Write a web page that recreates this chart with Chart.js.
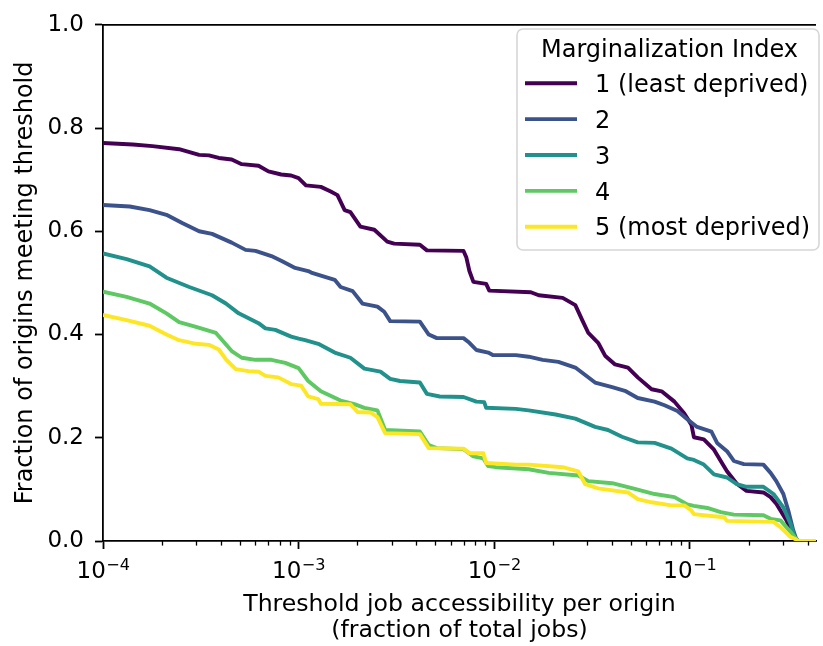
<!DOCTYPE html>
<html>
<head>
<meta charset="utf-8">
<script src="https://cdn.jsdelivr.net/npm/chart.js@4/dist/chart.umd.min.js"></script>
<style>
  html, body { margin: 0; padding: 0; background: #fff; }
  #wrap { width: 823px; height: 646px; }
</style>
</head>
<body>
<div id="wrap"><canvas id="chart" width="823" height="646"></canvas></div>
<script>
// Share of origins whose job accessibility reaches each threshold, by marginalization quintile
const seriesLabels = ['1 (least deprived)', '2', '3', '4', '5 (most deprived)'];
const seriesColors = ['#440154', '#3b528b', '#21918c', '#5ec962', '#fde725'];

const thresholdQ1 = [1e-4, 1.42e-4, 1.79e-4, 2.45e-4, 3.10e-4, 3.48e-4, 3.91e-4, 4.55e-4, 5.12e-4, 6.24e-4, 7.01e-4, 8.15e-4, 9.16e-4, 1.0e-3, 1.09e-3, 1.30e-3, 1.46e-3, 1.58e-3, 1.72e-3, 1.84e-3, 2.07e-3, 2.44e-3, 2.84e-3, 3.08e-3, 4.17e-3, 4.53e-3, 6.97e-3, 7.21e-3, 7.47e-3, 7.83e-3, 9.10e-3, 9.44e-3, 1.54e-2, 1.69e-2, 2.24e-2, 2.60e-2, 2.82e-2, 3.03e-2, 3.40e-2, 3.69e-2, 4.15e-2, 4.83e-2, 5.42e-2, 6.38e-2, 7.18e-2, 8.35e-2, 9.38e-2, 0.102, 0.105, 0.118, 0.133, 0.144, 0.155, 0.174, 0.195, 0.238, 0.259, 0.277, 0.312, 0.346, 0.358, 0.442];
const shareQ1 = [0.771, 0.768, 0.765, 0.759, 0.748, 0.747, 0.742, 0.739, 0.730, 0.727, 0.716, 0.710, 0.708, 0.703, 0.689, 0.686, 0.677, 0.670, 0.641, 0.637, 0.609, 0.603, 0.580, 0.576, 0.574, 0.563, 0.562, 0.549, 0.523, 0.502, 0.498, 0.485, 0.482, 0.476, 0.471, 0.457, 0.428, 0.403, 0.384, 0.359, 0.342, 0.336, 0.317, 0.294, 0.290, 0.270, 0.247, 0.225, 0.201, 0.197, 0.177, 0.155, 0.135, 0.111, 0.097, 0.094, 0.085, 0.072, 0.040, 0.004, 0, 0];

const thresholdQ2 = [1e-4, 1.37e-4, 1.73e-4, 2.11e-4, 2.54e-4, 3.10e-4, 3.61e-4, 4.55e-4, 5.36e-4, 6.02e-4, 7.26e-4, 8.15e-4, 9.60e-4, 1.12e-3, 1.16e-3, 1.30e-3, 1.53e-3, 1.64e-3, 1.89e-3, 2.12e-3, 2.53e-3, 2.74e-3, 2.94e-3, 4.17e-3, 4.63e-3, 5.09e-3, 6.97e-3, 7.47e-3, 8.11e-3, 9.32e-3, 9.89e-3, 1.29e-2, 1.50e-2, 1.77e-2, 2.13e-2, 2.60e-2, 3.28e-2, 4.01e-2, 4.66e-2, 5.42e-2, 6.61e-2, 7.43e-2, 8.65e-2, 9.71e-2, 0.109, 0.129, 0.138, 0.155, 0.168, 0.189, 0.238, 0.259, 0.277, 0.301, 0.319, 0.338, 0.350, 0.358, 0.442];
const shareQ2 = [0.651, 0.648, 0.641, 0.632, 0.616, 0.600, 0.595, 0.578, 0.564, 0.562, 0.552, 0.543, 0.529, 0.523, 0.520, 0.514, 0.506, 0.492, 0.484, 0.460, 0.454, 0.444, 0.426, 0.425, 0.400, 0.393, 0.393, 0.384, 0.370, 0.365, 0.360, 0.360, 0.357, 0.351, 0.347, 0.336, 0.307, 0.298, 0.291, 0.277, 0.270, 0.263, 0.252, 0.236, 0.221, 0.212, 0.190, 0.174, 0.155, 0.149, 0.148, 0.132, 0.116, 0.091, 0.059, 0.021, 0.004, 0, 0];

const thresholdQ3 = [1e-4, 1.32e-4, 1.73e-4, 2.11e-4, 2.76e-4, 3.61e-4, 4.25e-4, 4.94e-4, 6.24e-4, 6.77e-4, 7.60e-4, 9.16e-4, 1.0e-3, 1.08e-3, 1.26e-3, 1.53e-3, 1.84e-3, 2.17e-3, 2.62e-3, 2.94e-3, 3.30e-3, 4.17e-3, 4.53e-3, 5.27e-3, 6.97e-3, 8.11e-3, 8.89e-3, 9.10e-3, 1.29e-2, 1.50e-2, 2.06e-2, 2.60e-2, 3.28e-2, 3.82e-2, 4.50e-2, 5.42e-2, 6.61e-2, 8.06e-2, 9.71e-2, 0.105, 0.118, 0.133, 0.155, 0.174, 0.195, 0.238, 0.268, 0.301, 0.327, 0.346, 0.358, 0.442];
const shareQ3 = [0.557, 0.546, 0.532, 0.510, 0.492, 0.476, 0.460, 0.441, 0.422, 0.412, 0.409, 0.396, 0.392, 0.389, 0.382, 0.365, 0.355, 0.334, 0.328, 0.314, 0.310, 0.307, 0.285, 0.280, 0.279, 0.270, 0.269, 0.258, 0.256, 0.253, 0.245, 0.237, 0.221, 0.215, 0.202, 0.191, 0.190, 0.179, 0.160, 0.157, 0.148, 0.129, 0.123, 0.110, 0.105, 0.105, 0.091, 0.065, 0.034, 0.004, 0, 0];

const thresholdQ4 = [1e-4, 1.32e-4, 1.73e-4, 2.11e-4, 2.45e-4, 2.99e-4, 3.78e-4, 4.55e-4, 5.12e-4, 6.02e-4, 7.26e-4, 8.55e-4, 1.0e-3, 1.12e-3, 1.30e-3, 1.64e-3, 1.93e-3, 2.17e-3, 2.53e-3, 2.77e-3, 3.19e-3, 4.17e-3, 4.63e-3, 5.09e-3, 6.97e-3, 7.83e-3, 8.80e-3, 9.32e-3, 1.02e-2, 1.50e-2, 1.90e-2, 2.69e-2, 3.03e-2, 4.01e-2, 5.24e-2, 6.61e-2, 8.35e-2, 9.71e-2, 0.105, 0.123, 0.144, 0.168, 0.238, 0.259, 0.291, 0.327, 0.350, 0.358, 0.442];
const shareQ4 = [0.483, 0.473, 0.460, 0.441, 0.424, 0.415, 0.403, 0.368, 0.355, 0.351, 0.351, 0.345, 0.335, 0.310, 0.290, 0.272, 0.265, 0.258, 0.253, 0.215, 0.214, 0.212, 0.186, 0.180, 0.178, 0.164, 0.160, 0.145, 0.143, 0.139, 0.132, 0.127, 0.116, 0.112, 0.101, 0.091, 0.085, 0.071, 0.068, 0.064, 0.056, 0.051, 0.050, 0.043, 0.040, 0.018, 0.004, 0, 0];

const thresholdQ5 = [1e-4, 1.32e-4, 1.73e-4, 2.11e-4, 2.45e-4, 2.99e-4, 3.48e-4, 3.91e-4, 4.25e-4, 4.77e-4, 5.55e-4, 6.24e-4, 6.77e-4, 7.87e-4, 9.16e-4, 1.03e-3, 1.12e-3, 1.26e-3, 1.30e-3, 1.84e-3, 2.00e-3, 2.33e-3, 2.53e-3, 2.77e-3, 4.17e-3, 4.63e-3, 6.97e-3, 7.47e-3, 8.80e-3, 9.10e-3, 1.29e-2, 1.50e-2, 2.24e-2, 2.69e-2, 2.92e-2, 3.40e-2, 4.83e-2, 5.42e-2, 6.38e-2, 8.06e-2, 9.38e-2, 0.102, 0.105, 0.118, 0.150, 0.155, 0.268, 0.291, 0.327, 0.346, 0.358, 0.442];
const shareQ5 = [0.438, 0.428, 0.417, 0.400, 0.389, 0.382, 0.380, 0.371, 0.352, 0.333, 0.329, 0.328, 0.320, 0.317, 0.304, 0.301, 0.280, 0.275, 0.266, 0.265, 0.250, 0.249, 0.240, 0.209, 0.207, 0.180, 0.179, 0.170, 0.170, 0.151, 0.148, 0.148, 0.143, 0.135, 0.110, 0.102, 0.094, 0.081, 0.075, 0.069, 0.069, 0.059, 0.052, 0.050, 0.046, 0.039, 0.037, 0.027, 0.008, 0.004, 0, 0];

const xMin = 1e-4;
const xMax = 0.442;
const yTicks = [0, 0.2, 0.4, 0.6, 0.8, 1.0];

const thresholds = [thresholdQ1, thresholdQ2, thresholdQ3, thresholdQ4, thresholdQ5];
const shares = [shareQ1, shareQ2, shareQ3, shareQ4, shareQ5];

const FONT = "'DejaVu Sans', 'Liberation Sans', sans-serif";
const FS = 24;       // axis titles and legend
const TICK_FS = 23;  // tick labels
const LINE_W = 3.9;
Chart.defaults.color = '#000';
Chart.defaults.font.family = FONT;
Chart.defaults.font.size = FS;

function isPow10(v) {
  const e = Math.log10(v);
  return Math.abs(e - Math.round(e)) < 1e-6;
}

const datasets = seriesLabels.map((label, i) => {
  const xs = thresholds[i], ys = shares[i];
  const n = Math.min(xs.length, ys.length);
  const pts = [];
  for (let k = 0; k < n; k++) pts.push({ x: xs[k], y: ys[k] });
  return {
    label,
    data: pts,
    borderColor: seriesColors[i],
    backgroundColor: seriesColors[i],
    borderWidth: LINE_W,
    borderJoinStyle: 'round',
    pointRadius: 0,
    tension: 0,
    fill: false,
    order: seriesLabels.length - i
  };
});

// top spine, minor ticks and power-of-ten labels on the log axis
const framePlugin = {
  id: 'frame',
  afterDraw(chart) {
    const { ctx, chartArea } = chart;
    const xs = chart.scales.x;
    ctx.save();
    ctx.strokeStyle = '#000';
    ctx.lineWidth = 1.8;
    ctx.beginPath();
    ctx.moveTo(chartArea.left - 0.9, chartArea.top);
    ctx.lineTo(chartArea.right, chartArea.top);
    ctx.stroke();
    ctx.lineWidth = 1.3;
    for (let e = -4; e <= 0; e++) {
      for (let m = 2; m <= 9; m++) {
        const v = m * Math.pow(10, e);
        if (v <= xMin || v >= xMax) continue;
        const px = Math.round(xs.getPixelForValue(v)) + 0.5;
        ctx.beginPath();
        ctx.moveTo(px, chartArea.bottom);
        ctx.lineTo(px, chartArea.bottom + 4.6);
        ctx.stroke();
      }
    }
    // 10^n labels with a raised, smaller exponent
    const baseFont = TICK_FS + 'px ' + FONT;
    const expFont = (TICK_FS * 0.7).toFixed(1) + 'px ' + FONT;
    ctx.fillStyle = '#000';
    ctx.textAlign = 'left';
    ctx.textBaseline = 'alphabetic';
    xs.ticks.forEach(t => {
      if (!isPow10(t.value)) return;
      const px = xs.getPixelForValue(t.value);
      const ex = String(Math.round(Math.log10(t.value))).replace('-', '\u2212');
      ctx.font = baseFont;
      const wb = ctx.measureText('10').width;
      ctx.font = expFont;
      const we = ctx.measureText(ex).width;
      const x0 = px - (wb + we) / 2;
      const base = chartArea.bottom + 37;
      ctx.font = baseFont;
      ctx.fillText('10', x0, base);
      ctx.font = expFont;
      ctx.fillText(ex, x0 + wb + 0.5, base - 8.5);
    });
    ctx.restore();
  }
};

// legend box drawn inside the axes, upper right
const legendPlugin = {
  id: 'boxLegend',
  afterDraw(chart) {
    const { ctx } = chart;
    const box = { x: 517, y: 29, w: 302, h: 221, r: 6 };
    ctx.save();
    ctx.beginPath();
    ctx.roundRect(box.x, box.y, box.w, box.h, box.r);
    ctx.fillStyle = 'rgba(255,255,255,0.8)';
    ctx.fill();
    ctx.strokeStyle = 'rgba(204,204,204,0.8)';
    ctx.lineWidth = 1.6;
    ctx.stroke();
    ctx.font = FS + 'px ' + FONT;
    ctx.fillStyle = '#000';
    ctx.textAlign = 'center';
    ctx.textBaseline = 'alphabetic';
    ctx.fillText('Marginalization Index', 669.5, 57);
    ctx.textAlign = 'left';
    chart.data.datasets.forEach((ds, i) => {
      const y = 83.3 + i * 35.85;
      ctx.strokeStyle = ds.borderColor;
      ctx.lineWidth = LINE_W;
      ctx.beginPath();
      ctx.moveTo(525, y);
      ctx.lineTo(577, y);
      ctx.stroke();
      ctx.fillStyle = '#000';
      ctx.fillText(ds.label, 595, y + 8.7);
    });
    ctx.restore();
  }
};

new Chart(document.getElementById('chart'), {
  type: 'line',
  data: { datasets },
  options: {
    responsive: false,
    animation: false,
    events: [],
    layout: { padding: { top: 17, right: 0, bottom: 0, left: 0 } },
    plugins: { legend: { display: false }, tooltip: { enabled: false } },
    scales: {
      x: {
        type: 'logarithmic',
        min: xMin,
        max: xMax,
        z: 1,
        afterFit(scale) { scale.height = 105; },
        border: { display: true, color: '#000', width: 1.8 },
        grid: {
          drawOnChartArea: false,
          drawTicks: true,
          tickLength: 8,
          tickWidth: 1.8,
          tickColor: (c) => (c.tick && isPow10(c.tick.value)) ? '#000' : 'rgba(0,0,0,0)'
        },
        ticks: {
          autoSkip: false,
          maxRotation: 0,
          padding: 7,
          font: { size: TICK_FS },
          callback: () => ''
        },
        title: {
          display: true,
          text: ['Threshold job accessibility per origin', '(fraction of total jobs)'],
          font: { size: 23.6, lineHeight: 1.1 },
          padding: { top: 0, bottom: 2 }
        }
      },
      y: {
        type: 'linear',
        min: 0,
        max: 1,
        z: 1,
        afterFit(scale) { scale.width = 103; },
        afterBuildTicks(scale) { scale.ticks = yTicks.map(v => ({ value: v })); },
        border: { display: true, color: '#000', width: 1.8 },
        grid: {
          drawOnChartArea: false,
          drawTicks: true,
          tickLength: 8,
          tickWidth: 1.8,
          tickColor: '#000'
        },
        ticks: {
          padding: 11,
          font: { size: TICK_FS },
          callback: (v) => Number(v).toFixed(1)
        },
        title: {
          display: true,
          text: 'Fraction of origins meeting threshold',
          font: { size: FS },
          padding: { top: 11, bottom: 0 }
        }
      }
    }
  },
  plugins: [framePlugin, legendPlugin]
});
</script>
</body>
</html>
